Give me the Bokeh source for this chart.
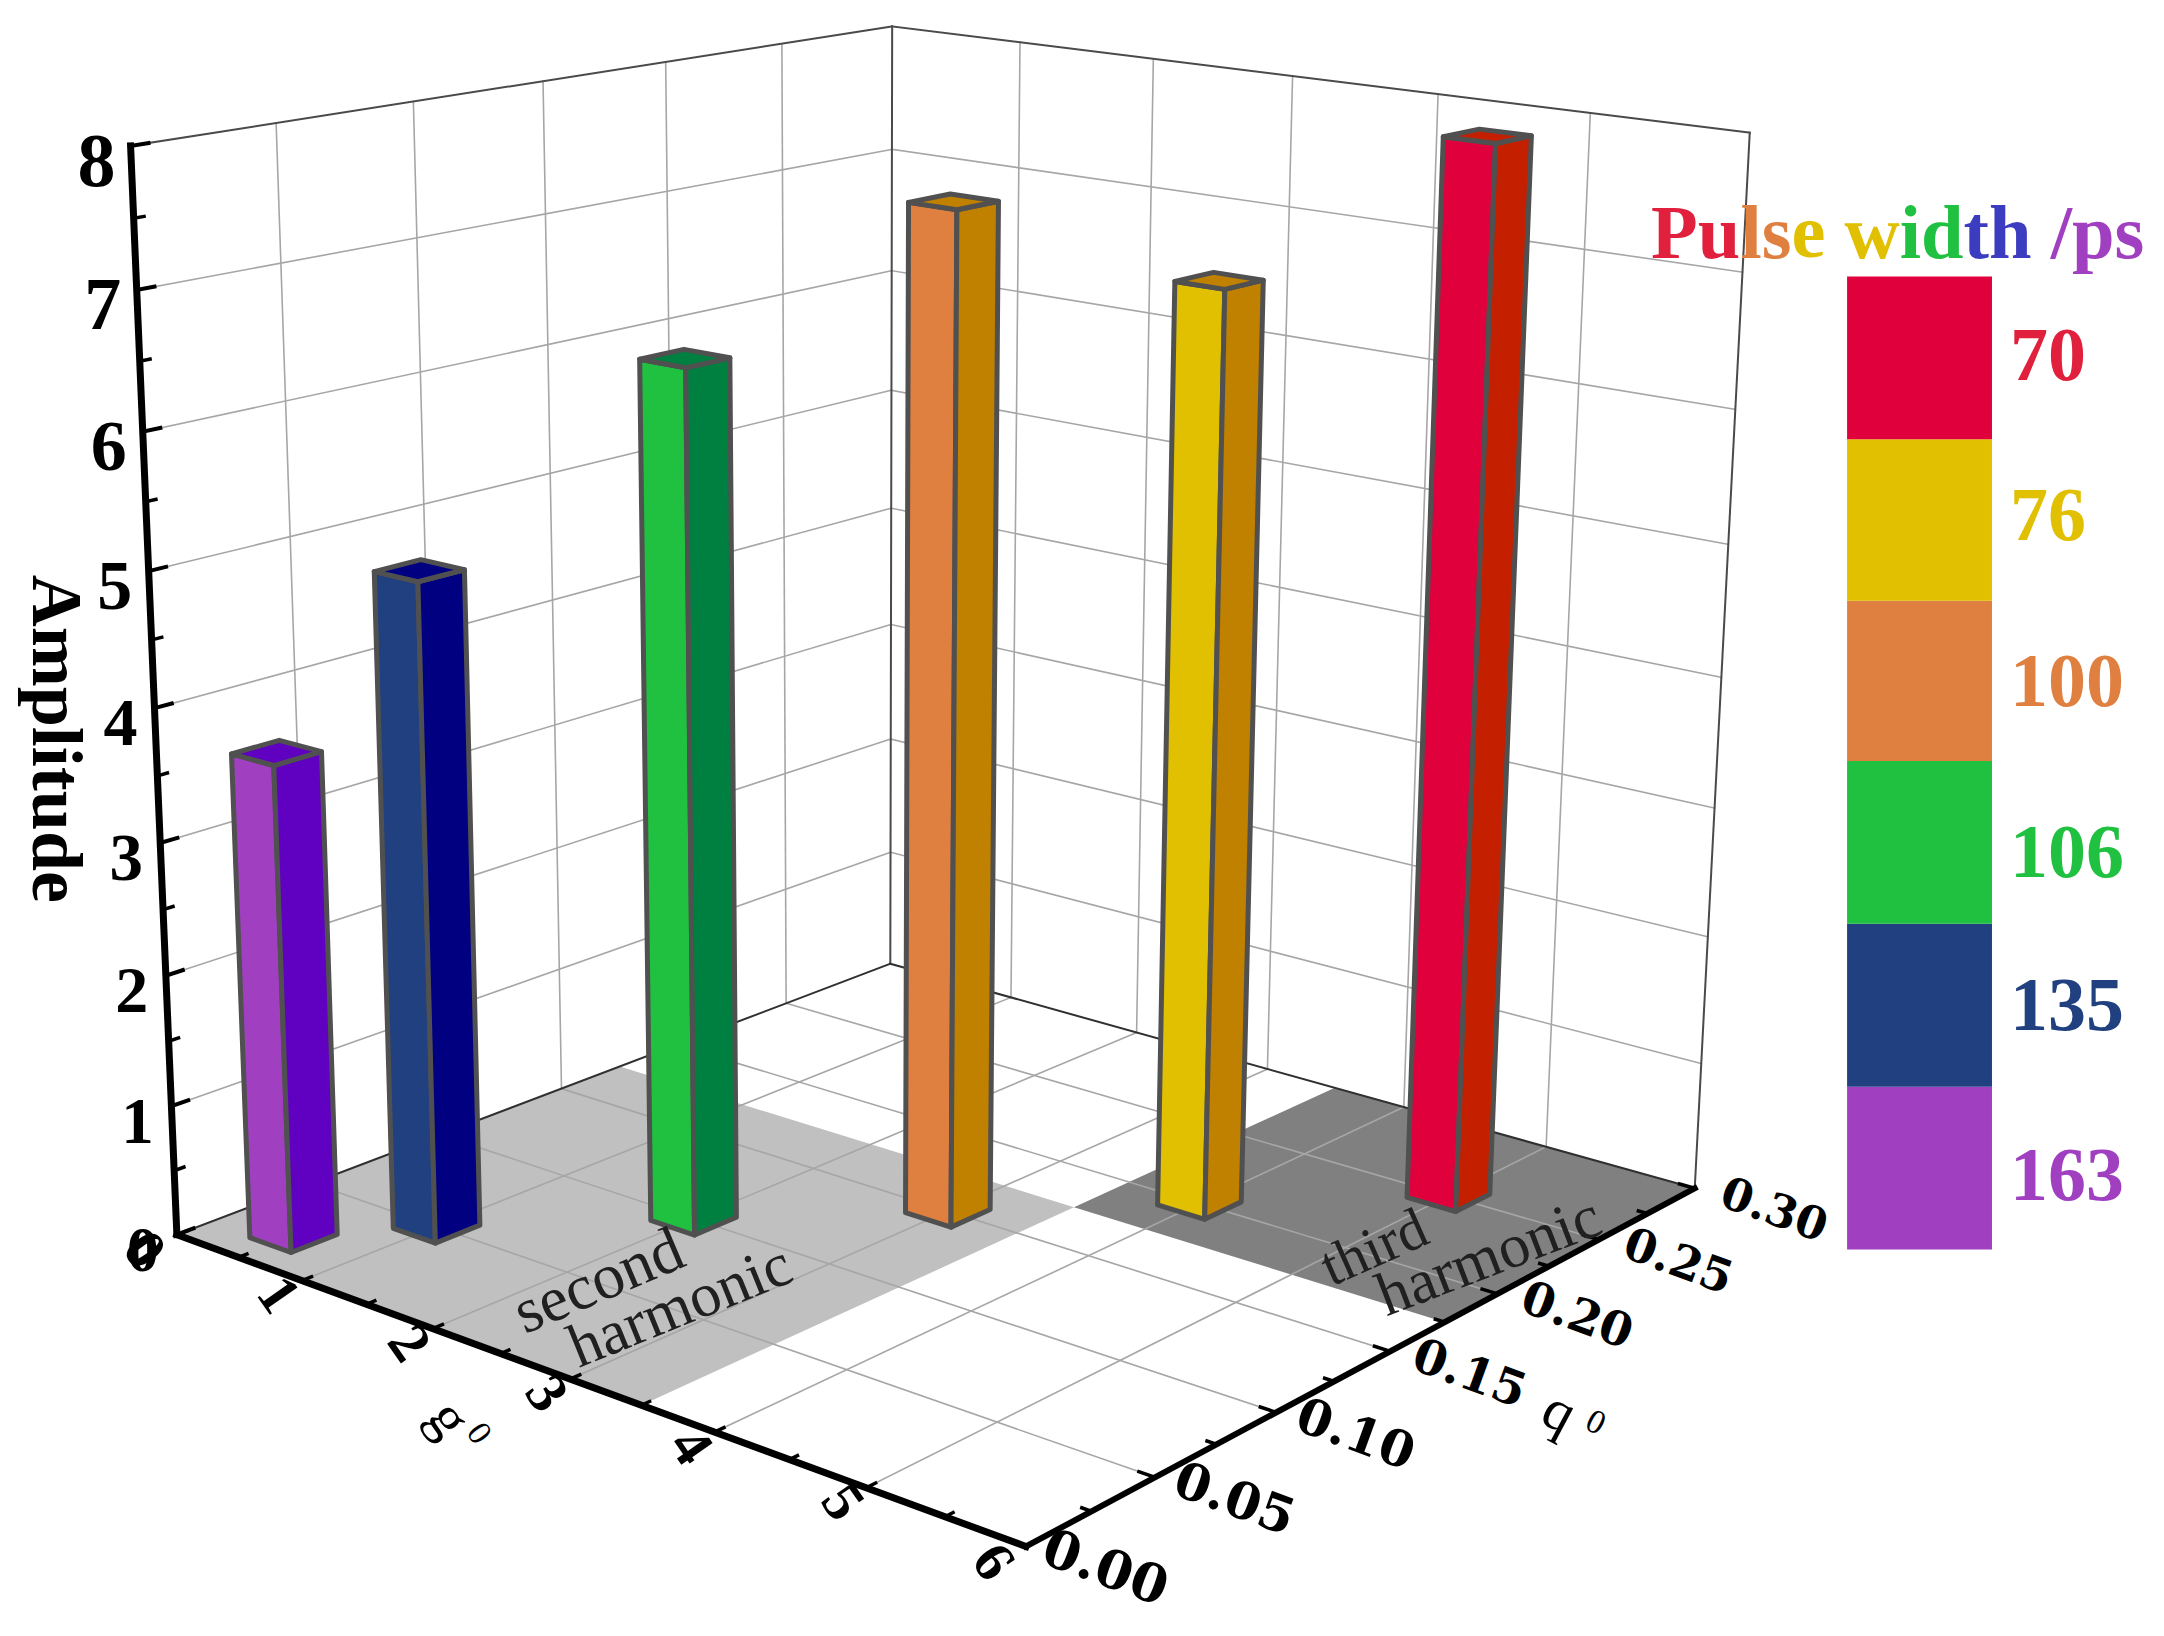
import numpy as np
from bokeh.plotting import figure
from bokeh.models import Range1d
from bokeh.core.properties import value
from bokeh.embed import file_html
from bokeh.resources import INLINE

# ---------- data ----------
g0 = [0.5, 1, 2, 3, 4, 5]
q0 = [0.02, 0.05, 0.10, 0.15, 0.20, 0.25]
amplitude = [3.68, 4.97, 6.47, 7.56, 6.98, 7.99]
pulse_width = ["163", "135", "106", "100", "76", "70"]
front_colors = ["#A040C0", "#204080", "#20C040", "#E08040", "#E0C000", "#E0003C"]
side_colors = ["#6000C0", "#000080", "#008040", "#C08000", "#C08000", "#C42000"]
label_colors = ["#A040C0", "#204080", "#20C040", "#E08040", "#E0C000", "#E0203C"]
amp_ticks = [0, 1, 2, 3, 4, 5, 6, 7, 8]
g_ticks = [0, 1, 2, 3, 4, 5, 6]
q_ticks = [0.00, 0.05, 0.10, 0.15, 0.20, 0.25, 0.30]
q_labels = ["0.00", "0.05", "0.10", "0.15", "0.20", "0.25", "0.30"]
regions = [((0, 3.5), (0, 0.175), "#C0C0C0"), ((3.5, 6), (0.175, 0.30), "#808080")]
title_chars = list("Pulse width /ps")
title_colors = ["#E0203C","#E0203C","#E08040","#E08040","#E0C000","#E0C000","#E0C000",
                "#20C040","#20C040","#3C3CC0","#3C3CC0","#3C3CC0","#A040C0","#A040C0","#A040C0"]
title_adv = [.611,.556,.278,.389,.444,.25,.722,.278,.556,.333,.556,.25,.278,.556,.389]

# ---------- projection ----------
S = 2164/1568
WORLD = [(0,0,0),(6,0,0),(6,.3,0),(0,.3,0),(0,0,8),(0,.3,8),(6,.3,8)]
IMG = [(128,893),(742,1122),(1228,858),(645,700),(95,105),(645,18),(1268,97)]
A=[];B=[]
for (g,q,a),(x,y) in zip(WORLD,IMG):
    x*=S;y*=S;q=q*20
    A.append([g,q,a,1,0,0,0,0,-x*g,-x*q,-x*a]);B.append(x)
    A.append([0,0,0,0,g,q,a,1,-y*g,-y*q,-y*a]);B.append(y)
M=np.append(np.linalg.lstsq(np.array(A,float),np.array(B,float),rcond=None)[0],1).reshape(3,4)
def pr(g,q,a=0):
    v=M@np.array([g,q*20,a,1.0]);return v[0]/v[2],v[1]/v[2]

p=figure(width=2148,height=1620,output_backend="svg",toolbar_location=None,
         x_range=Range1d(0,2148),y_range=Range1d(1620,0),min_border=0,
         background_fill_color="white",outline_line_color=None)
p.axis.visible=False; p.grid.visible=False

def seg(a,b,color,w):
    xa,ya=pr(*a);xb,yb=pr(*b)
    p.line([xa,xb],[ya,yb],line_color=color,line_width=w,line_cap="square")

# floor regions
for (g1,g2),(q1,q2),c in regions:
    pts=[pr(g1,q1),pr(g2,q1),pr(g2,q2),pr(g1,q2)]
    p.patch([t[0] for t in pts],[t[1] for t in pts],fill_color=c,line_color=None)

GRID="#A6A6A6"; FRAME="#4A4A4A"
for g in g_ticks[1:-1]:
    seg((g,0,0),(g,.3,0),GRID,1.6)
    seg((g,.3,0),(g,.3,8),GRID,1.6)
for q in q_ticks[1:-1]:
    seg((0,q,0),(6,q,0),GRID,1.6)
    seg((0,q,0),(0,q,8),GRID,1.6)
for a in amp_ticks[1:-1]:
    seg((0,0,a),(0,.3,a),GRID,1.6)
    seg((0,.3,a),(6,.3,a),GRID,1.6)
# frame
seg((0,0,8),(0,.3,8),FRAME,2)
seg((0,.3,8),(6,.3,8),FRAME,2)
seg((6,.3,8),(6,.3,0),FRAME,2)
seg((0,.3,8),(0,.3,0),FRAME,2)
seg((0,0,0),(0,.3,0),"#303030",2)
seg((0,.3,0),(6,.3,0),"#303030",2)

# thick axes + ticks
seg((0,0,0),(0,0,8),"black",7)
seg((0,0,0),(6,0,0),"black",7)
seg((6,0,0),(6,.3,0),"black",6)
for a in amp_ticks:
    seg((0,0,a),(0,.006,a),"black",4)
    if a<8: seg((0,0,a+.5),(0,.0035,a+.5),"black",3.5)
for g in g_ticks:
    seg((g,0,0),(g,.0035,0),"black",3.5)
    if g<6: seg((g+.5,0,0),(g+.5,.003,0),"black",3.5)
for q in q_ticks:
    seg((6,q,0),(5.9,q,0),"black",3.5)
    if q<.3: seg((6,q+.025,0),(5.94,q+.025,0),"black",3.5)

# bars
DG=.165; DQ=.0085
for g,q,a,fc,sc in zip(g0,q0,amplitude,front_colors,side_colors):
    l=[(g-DG,q-DQ),(g+DG,q-DQ),(g+DG,q+DQ),(g-DG,q+DQ)]
    faces=[([l[0]+(0,),l[1]+(0,),l[1]+(a,),l[0]+(a,)],fc),
           ([l[1]+(0,),l[2]+(0,),l[2]+(a,),l[1]+(a,)],sc),
           ([l[0]+(a,),l[1]+(a,),l[2]+(a,),l[3]+(a,)],sc)]
    for pts,c in faces:
        xy=[pr(*t) for t in pts]
        p.patch([t[0] for t in xy],[t[1] for t in xy],fill_color=c,line_color="#505050",line_width=5,line_join="round")

SERIF=value("Liberation Serif")
def txt(x,y,s,size,color="black",style="bold",angle=0,align="center",base="middle",font=SERIF):
    p.text([x],[y],text=[s],text_font=font,text_font_size=value(f"{size}px"),text_font_style=style,
           text_color=color,angle=angle,angle_units="deg",text_align=align,text_baseline=base)

# tick labels
sizes=[64,65,66,67,68,70,72,74,76]
for a,sz in zip(amp_ticks,sizes):
    x,y=pr(0,0,a); txt(x-34,y+15,str(a),sz)
for g in g_ticks:
    x,y=pr(g,0,0)
    dx,dy=(-32,15) if g in (0,6) else (-23,14)
    txt(x+dx,y+dy,str(g),58,angle=-55)
q_sizes=[53,51,50,48,47,46,45]
for q,s,sz in zip(q_ticks,q_labels,q_sizes):
    x,y=pr(6,q,0); txt(x+80,y+20,s,sz,angle=-20,font=value("DejaVu Serif"))

# axis titles
txt(41*S,535*S,"Amplitude",72,angle=-90)
txt(326*S,1027*S,"g",58,style="normal",angle=-55)
txt(347*S,1038*S,"0",34,style="normal",angle=-55)
txt(1130*S,1022*S,"q",58,style="normal",angle=-28)
txt(1156*S,1030*S,"0",34,style="normal",angle=-28)
# annotations
INK="#202020"
txt(433*S,927*S,"second",64,color=INK,style="normal",angle=23)
txt(492*S,945*S,"harmonic",62,color=INK,style="normal",angle=22)
txt(995*S,903*S,"third",58,color=INK,style="normal",angle=24)
txt(1078*S,909*S,"harmonic",62,color=INK,style="normal",angle=21)

# legend
edges=[905,787,669,551,435,318,200]
label_y=[851,728,617,493,373,257]
for i,(c,lc,s) in enumerate(zip(front_colors,label_colors,pulse_width)):
    p.quad(left=[1338*S],right=[1443*S],top=[edges[i+1]*S],bottom=[edges[i]*S],fill_color=c,line_color=None)
    txt(1456*S,label_y[i]*S,s,76,color=lc,align="left")
FS=76.5
x=1196*S
for ch,c,adv in zip(title_chars,title_colors,title_adv):
    txt(x,168*S,ch,FS,color=c,align="left")
    x+=adv*FS

open("out.html","w").write(file_html(p,INLINE))
